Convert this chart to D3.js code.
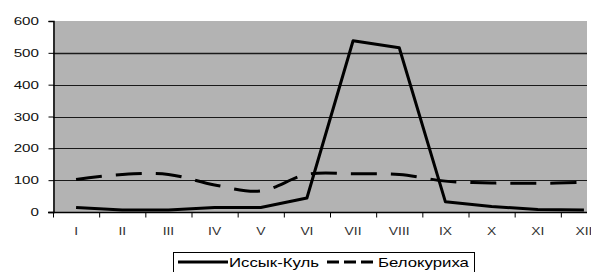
<!DOCTYPE html>
<html lang="ru">
<head>
<meta charset="UTF-8">
<title>Иссык-Куль / Белокуриха</title>
<script src="https://cdn.jsdelivr.net/npm/d3@7/dist/d3.min.js"></script>
<style>
  body { margin: 0; background: #fff; }
  svg { display: block; font-family: Arial, "Liberation Sans", sans-serif; }
</style>
</head>
<body>
<script>
    // months and the two series
    var months = ["I", "II", "III", "IV", "V", "VI", "VII", "VIII", "IX", "X", "XI", "XII"];
    var issykKul = [14, 6, 6, 14, 14, 44, 538, 516, 32, 17, 8, 6];
    var belokurikha = [102, 118, 118, 85, 66, 118, 120, 118, 97, 91, 90, 93];
    var yTicks = [0, 100, 200, 300, 400, 500, 600];
    var seriesNames = ["Иссык-Куль", "Белокуриха"];

    var width = 591, height = 272;
    var plotLeft = 53, plotTop = 21, plotBottom = 212, plotRight = 587;
    var stretch = 1.32; // the original picture is stretched sideways

    var svg = d3.select("body").append("svg")
        .attr("width", width)
        .attr("height", height);

    var x = d3.scaleBand()
        .domain(months)
        .range([plotLeft, 607]);

    var y = d3.scaleLinear()
        .domain([0, 600])
        .range([plotBottom, plotTop]);

    // plot background
    svg.append("rect")
        .attr("x", plotLeft)
        .attr("y", plotTop)
        .attr("width", plotRight - plotLeft)
        .attr("height", plotBottom - plotTop)
        .attr("fill", "#b3b3b3");

    // gridlines
    svg.append("g")
        .selectAll("line")
        .data(yTicks.filter(function (d) { return d > 0 && d < 600; }))
        .enter()
        .append("line")
        .attr("x1", plotLeft)
        .attr("x2", plotRight)
        .attr("y1", function (d) { return Math.round(y(d)) + 0.5; })
        .attr("y2", function (d) { return Math.round(y(d)) + 0.5; })
        .attr("stroke", "#1a1a1a")
        .attr("stroke-width", function (d) { return d === 500 ? 1.5 : 1; });

    // y axis (labels drawn separately so they can be stretched)
    var yAxis = d3.axisLeft(y)
        .tickValues(yTicks)
        .tickSize(5)
        .tickFormat("");

    var gy = svg.append("g")
        .attr("transform", "translate(" + (plotLeft + 0.5) + ",0)")
        .call(yAxis);
    gy.select(".domain").attr("stroke", "#000").attr("stroke-width", 1.5);

    svg.append("g")
        .selectAll("text")
        .data(yTicks)
        .enter()
        .append("text")
        .attr("transform", function (d) {
            return "translate(39," + (y(d) + 4) + ") scale(" + stretch + ",1)";
        })
        .attr("text-anchor", "end")
        .attr("font-size", 11.5)
        .attr("fill", "#111")
        .text(function (d) { return d; });

    // x axis: ticks between categories like Excel
    var gx = svg.append("g")
        .attr("transform", "translate(0," + (plotBottom + 0.5) + ")");
    gx.append("line")
        .attr("x1", plotLeft - 5)
        .attr("x2", plotRight)
        .attr("stroke", "#000")
        .attr("stroke-width", 1.5);
    gx.selectAll("line.tick")
        .data(months)
        .enter()
        .append("line")
        .attr("class", "tick")
        .attr("x1", function (d) { return x(d) + 0.5; })
        .attr("x2", function (d) { return x(d) + 0.5; })
        .attr("y1", 0)
        .attr("y2", 5)
        .attr("stroke", "#000");

    svg.append("g")
        .selectAll("text")
        .data(months)
        .enter()
        .append("text")
        .attr("transform", function (d) {
            return "translate(" + (x(d) + x.bandwidth() / 2) + ",235) scale(" + stretch + ",1)";
        })
        .attr("text-anchor", "middle")
        .attr("font-size", 10.5)
        .attr("fill", "#333")
        .text(function (d) { return d; });

    var cx = function (d, i) { return x(months[i]) + x.bandwidth() / 2; };

    var straight = d3.line()
        .x(cx)
        .y(function (d) { return y(d); });

    var smooth = d3.line()
        .x(cx)
        .y(function (d) { return y(d); })
        .curve(d3.curveCatmullRom.alpha(0.5));

    svg.append("path")
        .attr("d", smooth(belokurikha))
        .attr("fill", "none")
        .attr("stroke", "#000")
        .attr("stroke-width", 3)
        .attr("stroke-dasharray", "26,14");

    svg.append("path")
        .attr("d", straight(issykKul))
        .attr("fill", "none")
        .attr("stroke", "#000")
        .attr("stroke-width", 3)
        .attr("stroke-linejoin", "round");

    // legend
    var legend = svg.append("g");
    legend.append("rect")
        .attr("x", 173.5)
        .attr("y", 252.5)
        .attr("width", 301)
        .attr("height", 30)
        .attr("fill", "#fff")
        .attr("stroke", "#000");

    legend.append("line")
        .attr("x1", 178).attr("x2", 228)
        .attr("y1", 262).attr("y2", 262)
        .attr("stroke", "#000").attr("stroke-width", 3);
    legend.append("text")
        .attr("transform", "translate(229,267) scale(" + stretch + ",1)")
        .attr("font-size", 12.7)
        .attr("fill", "#000")
        .text(seriesNames[0]);

    legend.append("line")
        .attr("x1", 327).attr("x2", 373)
        .attr("y1", 262).attr("y2", 262)
        .attr("stroke", "#000").attr("stroke-width", 3)
        .attr("stroke-dasharray", "12,5");
    legend.append("text")
        .attr("transform", "translate(378,267) scale(" + stretch + ",1)")
        .attr("font-size", 12.7)
        .attr("fill", "#000")
        .text(seriesNames[1]);
</script>
</body>
</html>
